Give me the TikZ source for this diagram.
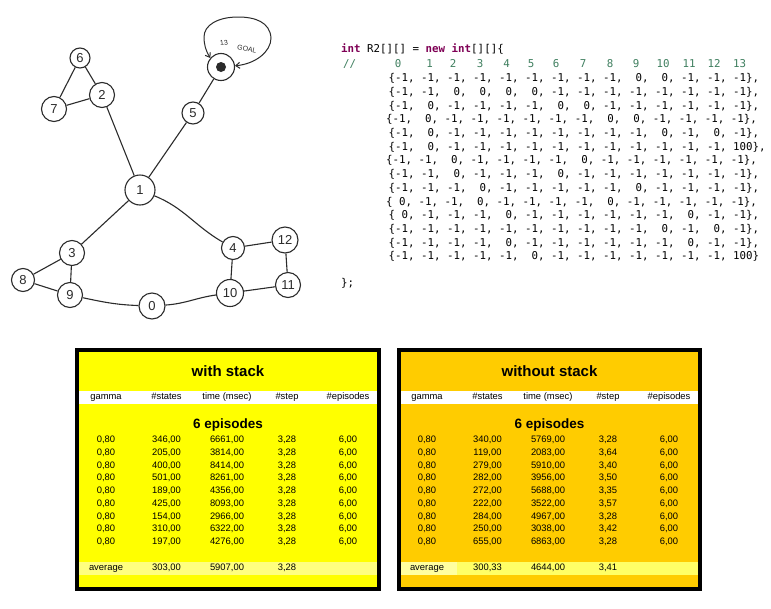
\documentclass[tikz,border=0pt]{standalone}
\usepackage{fontspec}
\setmainfont{Liberation Sans}
\newfontfamily\codefont{DejaVu Sans Mono}
\usetikzlibrary{arrows.meta}
\definecolor{kw}{HTML}{7F0055}
\definecolor{cm}{HTML}{3F7F5F}
\definecolor{tyellow}{HTML}{FFFF00}
\definecolor{torange}{HTML}{FFCC00}
\definecolor{avgL}{HTML}{FFFF80}
\definecolor{avgR}{HTML}{FFFF66}
\definecolor{avgRc}{HTML}{FFFFA0}
\definecolor{pen}{HTML}{2B2B2B}
\newcommand\tabrow[8]{%
  \node[cell] (#1c1) at (#2+31,#3) {#4};
  \node[cell] (#1c2) at (#2+91.5,#3) {#5};
  \node[cell] (#1c3) at (#2+152,#3) {#6};
  \node[cell] (#1c4) at (#2+212,#3) {#7};
  \node[cell] (#1c5) at (#2+273,#3) {#8};
}
\frenchspacing
\begin{document}
\begin{tikzpicture}[x=1pt,y=-1pt,
  gnode/.style={circle,draw=pen,line width=1.1pt,inner sep=0pt,font=\fontsize{13}{15}\selectfont,text=pen},
  gedge/.style={draw=pen,line width=1.1pt},
  code/.style={font=\codefont\fontsize{10.8}{12}\selectfont,anchor=west,inner sep=0pt,text height=8pt,text depth=2.5pt},
  colnum/.style={font=\codefont\fontsize{10.8}{12}\selectfont,inner sep=0pt,text height=8pt,text depth=2.5pt,text=cm},
  cell/.style={font=\fontsize{9.4}{11}\selectfont,inner sep=0pt,text height=7pt,text depth=1.8pt},
  ttl/.style={font=\bfseries\fontsize{15}{17}\selectfont,inner sep=0pt},
  sub/.style={font=\bfseries\fontsize{13.5}{16}\selectfont,inner sep=0pt},
  tframe/.style={draw=black,line width=4pt}
]
\useasboundingbox[fill=white] (0,0) rectangle (771,608);

% ---------------- graph ----------------
\node[gnode,minimum size=20pt] (n6) at (80,58) {6};
\node[gnode,minimum size=25pt] (n2) at (102,95) {2};
\node[gnode,minimum size=25pt] (n7) at (54,109) {7};
\node[gnode,minimum size=22pt] (n5) at (193,113) {5};
\node[gnode,minimum size=27pt] (n13) at (221,67) {};
\node[circle,fill=pen,inner sep=0pt,minimum size=10pt] (dot) at (n13.center) {};
\node[gnode,minimum size=30pt] (n1) at (140,190) {1};
\node[gnode,minimum size=25pt] (n3) at (72,253) {3};
\node[gnode,minimum size=23pt] (n8) at (23,280) {8};
\node[gnode,minimum size=25pt] (n9) at (70,295) {9};
\node[gnode,minimum size=26pt] (n0) at (152,306) {0};
\node[gnode,minimum size=27pt] (n10) at (230,293) {10};
\node[gnode,minimum size=23pt] (n4) at (233,248) {4};
\node[gnode,minimum size=26pt] (n12) at (285,240) {12};
\node[gnode,minimum size=25pt] (n11) at (288,285) {11};
\node[font=\fontsize{7}{8}\selectfont,text=pen,rotate=8,inner sep=0pt] (l13) at (224,43) {13};
\node[font=\fontsize{7}{8}\selectfont,text=pen,rotate=-12,inner sep=0pt] (lgoal) at (247,49) {GOAL};

\path[gedge] (n6) -- (n2);
\path[gedge] (n6) -- (n7);
\path[gedge] (n7) -- (n2);
\path[gedge] (n2) -- (n1);
\path[gedge] (n5) -- (n1);
\path[gedge] (n5) -- (n13);
\path[gedge] (n1) -- (n3);
\path[gedge] (n1) to[out=-22,in=150] (n4);
\path[gedge] (n3) -- (n8);
\path[gedge] (n3) -- (n9);
\path[gedge] (n8) -- (n9);
\path[gedge] (n9) to[out=-12,in=178] (n0);
\path[gedge] (n0) to[out=4,in=188] (n10);
\path[gedge] (n10) -- (n4);
\path[gedge] (n4) -- (n12);
\path[gedge] (n12) -- (n11);
\path[gedge] (n11) -- (n10);
\draw[draw=pen,line width=1pt,{Straight Barb[length=4pt,width=6pt]}-{Straight Barb[length=4pt,width=6pt]}]
  (n13.5) .. controls (255,64) and (271,52) .. (271,38)
  .. controls (270,22) and (255,17) .. (238,17)
  .. controls (218,17) and (204,25) .. (204,37)
  .. controls (204,45) and (206,51) .. (n13.140);

% ---------------- code ----------------
\node[code] (k0) at (341,50) {\textcolor{kw}{\bfseries int} R2[][] = \textcolor{kw}{\bfseries new} \textcolor{kw}{\bfseries int}[][]\{};
\node[code,text=cm] (kc) at (343,65) {//};
\node[colnum] (h0) at (398,65) {0};
\node[colnum] (h1) at (429.5,65) {1};
\node[colnum] (h2) at (453,65) {2};
\node[colnum] (h3) at (480,65) {3};
\node[colnum] (h4) at (506.5,65) {4};
\node[colnum] (h5) at (531,65) {5};
\node[colnum] (h6) at (556,65) {6};
\node[colnum] (h7) at (583,65) {7};
\node[colnum] (h8) at (610,65) {8};
\node[colnum] (h9) at (636,65) {9};
\node[colnum] (h10) at (663,65) {10};
\node[colnum] (h11) at (689,65) {11};
\node[colnum] (h12) at (714,65) {12};
\node[colnum] (h13) at (739.5,65) {13};
\node[code] (r0) at (388.3,79) {\{-1, -1, -1, -1, -1, -1, -1, -1, -1, ~0, ~0, -1, -1, -1\},};
\node[code] (r1) at (388.3,92.7) {\{-1, -1, ~0, ~0, ~0, ~0, -1, -1, -1, -1, -1, -1, -1, -1\},};
\node[code] (r2) at (388.3,106.4) {\{-1, ~0, -1, -1, -1, -1, ~0, ~0, -1, -1, -1, -1, -1, -1\},};
\node[code] (r3) at (386,120.1) {\{-1, ~0, -1, -1, -1, -1, -1, -1, ~0, ~0, -1, -1, -1, -1\},};
\node[code] (r4) at (388.3,133.8) {\{-1, ~0, -1, -1, -1, -1, -1, -1, -1, -1, ~0, -1, ~0, -1\},};
\node[code] (r5) at (388.3,147.5) {\{-1, ~0, -1, -1, -1, -1, -1, -1, -1, -1, -1, -1, -1, 100\},};
\node[code] (r6) at (386,161.2) {\{-1, -1, ~0, -1, -1, -1, -1, ~0, -1, -1, -1, -1, -1, -1\},};
\node[code] (r7) at (388.3,174.9) {\{-1, -1, ~0, -1, -1, -1, ~0, -1, -1, -1, -1, -1, -1, -1\},};
\node[code] (r8) at (388.3,188.6) {\{-1, -1, -1, ~0, -1, -1, -1, -1, -1, ~0, -1, -1, -1, -1\},};
\node[code] (r9) at (386,202.3) {\{~0, -1, -1, ~0, -1, -1, -1, -1, ~0, -1, -1, -1, -1, -1\},};
\node[code] (r10) at (388.3,216) {\{~0, -1, -1, -1, ~0, -1, -1, -1, -1, -1, -1, ~0, -1, -1\},};
\node[code] (r11) at (388.3,229.7) {\{-1, -1, -1, -1, -1, -1, -1, -1, -1, -1, ~0, -1, ~0, -1\},};
\node[code] (r12) at (388.3,243.4) {\{-1, -1, -1, -1, ~0, -1, -1, -1, -1, -1, -1, ~0, -1, -1\},};
\node[code] (r13) at (388.3,257.1) {\{-1, -1, -1, -1, -1, ~0, -1, -1, -1, -1, -1, -1, -1, 100\}};
\node[code] (kend) at (341,284) {\};};

% ---------------- left table ----------------
\fill[tyellow] (77,350) rectangle (379,589);
\fill[white] (79,390.5) rectangle (377,403.5);
\fill[avgL] (79,561.5) rectangle (377,575);
\draw[tframe] (77,350) rectangle (379,589);
\node[ttl] (Lt) at (228,371) {with stack};
\tabrow{Lh}{75}{397}{gamma}{\#states}{time (msec)}{\#step}{\#episodes}
\node[sub] (Ls) at (228,425) {6 episodes};
\tabrow{La}{75}{440}{0,80}{346,00}{6661,00}{3,28}{6,00}
\tabrow{Lb}{75}{452.75}{0,80}{205,00}{3814,00}{3,28}{6,00}
\tabrow{Lc}{75}{465.5}{0,80}{400,00}{8414,00}{3,28}{6,00}
\tabrow{Ld}{75}{478.25}{0,80}{501,00}{8261,00}{3,28}{6,00}
\tabrow{Le}{75}{491}{0,80}{189,00}{4356,00}{3,28}{6,00}
\tabrow{Lf}{75}{503.75}{0,80}{425,00}{8093,00}{3,28}{6,00}
\tabrow{Lg}{75}{516.5}{0,80}{154,00}{2966,00}{3,28}{6,00}
\tabrow{Li}{75}{529.25}{0,80}{310,00}{6322,00}{3,28}{6,00}
\tabrow{Lj}{75}{542}{0,80}{197,00}{4276,00}{3,28}{6,00}
\tabrow{Lk}{75}{568}{average}{303,00}{5907,00}{3,28}{}

% ---------------- right table ----------------
\fill[torange] (399,350) rectangle (700,589);
\fill[white] (401,390.5) rectangle (698,403.5);
\fill[avgR] (401,561.5) rectangle (698,575);
\fill[avgRc] (401,561.5) rectangle (457,575);
\draw[tframe] (399,350) rectangle (700,589);
\node[ttl] (Rt) at (549.5,371) {without stack};
\tabrow{Rh}{396}{397}{gamma}{\#states}{time (msec)}{\#step}{\#episodes}
\node[sub] (Rs) at (549.5,425) {6 episodes};
\tabrow{Ra}{396}{440}{0,80}{340,00}{5769,00}{3,28}{6,00}
\tabrow{Rb}{396}{452.75}{0,80}{119,00}{2083,00}{3,64}{6,00}
\tabrow{Rc}{396}{465.5}{0,80}{279,00}{5910,00}{3,40}{6,00}
\tabrow{Rd}{396}{478.25}{0,80}{282,00}{3956,00}{3,50}{6,00}
\tabrow{Re}{396}{491}{0,80}{272,00}{5688,00}{3,35}{6,00}
\tabrow{Rf}{396}{503.75}{0,80}{222,00}{3522,00}{3,57}{6,00}
\tabrow{Rg}{396}{516.5}{0,80}{284,00}{4967,00}{3,28}{6,00}
\tabrow{Ri}{396}{529.25}{0,80}{250,00}{3038,00}{3,42}{6,00}
\tabrow{Rj}{396}{542}{0,80}{655,00}{6863,00}{3,28}{6,00}
\tabrow{Rk}{396}{568}{average}{300,33}{4644,00}{3,41}{}
\end{tikzpicture}
\end{document}
